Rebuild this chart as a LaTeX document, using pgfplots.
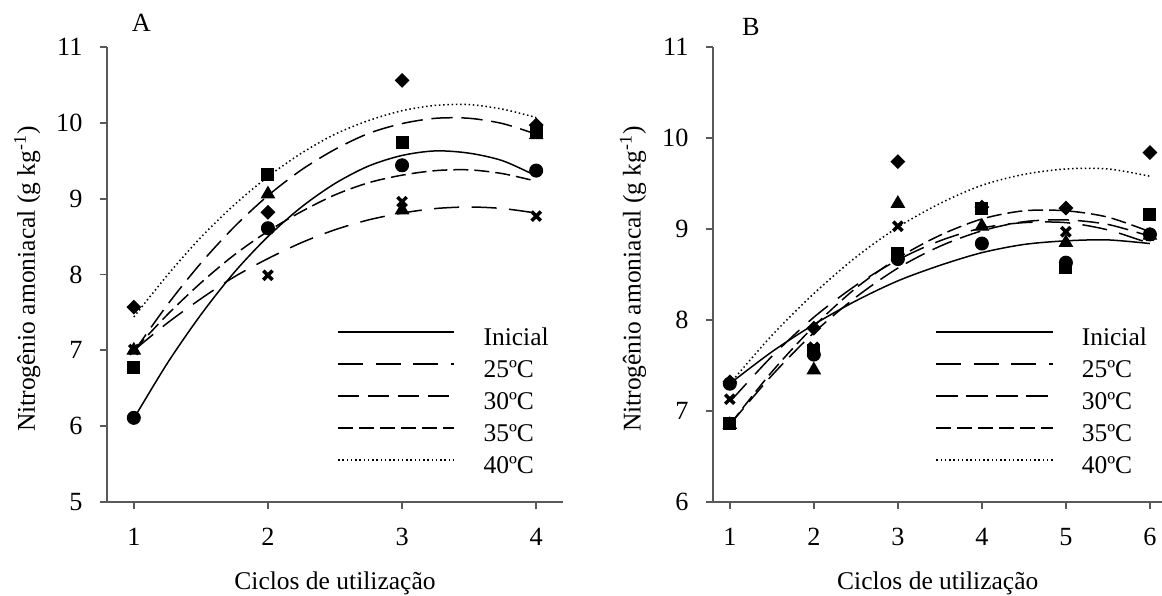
\documentclass[border=0pt]{standalone}
\usepackage{fontspec}
\setmainfont{Liberation Serif}
\usepackage{pgfplots}
\pgfplotsset{compat=1.18}
\begin{document}
\begin{tikzpicture}[x=1pt,y=1pt]
\useasboundingbox (0,0) rectangle (464.8,238);
\pgfplotsset{
  panel/.style={
    scale only axis,
    axis x line=bottom, axis y line=left,
    axis line style={-, black!65, line width=0.7pt},
    tick align=outside,
    major tick length=2.8pt,
    tick style={black!65, line width=0.7pt},
    /pgf/number format/assume math mode=true,
    tick label style={font=\fontsize{10.5}{12}\selectfont, black},
    label style={font=\fontsize{10.2}{12}\selectfont},
    xticklabel style={yshift=-4pt},
    yticklabel style={xshift=-3.5pt},
    clip=false,
    legend cell align=left,
    legend style={draw=none, fill=none, inner sep=0pt, row sep=3.8pt,
      nodes={inner sep=0pt, text height=7pt, text depth=2pt, font=\fontsize{10.2}{12}\selectfont},
      anchor=north west,
      /tikz/every odd column/.style={column sep=11.4pt}},
    legend image code/.code={\draw[##1] (0pt,3pt) -- (46.5pt,3pt);},
    ylabel={Nitrogênio amoniacal (g kg\textsuperscript{-1})},
    xlabel={Ciclos de utilização},
    xlabel style={at={(axis description cs:0.5,-0.193)}, anchor=base},
  },
  cIni/.style={black, line width=0.6pt, smooth},
  c25/.style={black, line width=0.6pt, smooth, dash pattern=on 10pt off 5pt},
  c30/.style={black, line width=0.6pt, smooth, dash pattern=on 8.5pt off 3.5pt},
  c35/.style={black, line width=0.6pt, smooth, dash pattern=on 6pt off 2.4pt},
  c40/.style={black, line width=0.6pt, smooth, dash pattern=on 0.6pt off 1.1pt},
  mCirc/.style={only marks, mark=*, mark size=2.6pt, black, forget plot},
  mSq/.style={only marks, mark=square*, mark size=2.4pt, black, forget plot},
  mTri/.style={only marks, mark=triangle*, mark size=3pt, black, forget plot},
  mX/.style={only marks, mark=x, mark size=2.6pt, black, mark options={line width=1.4pt}, forget plot},
  mDia/.style={only marks, mark=square*, mark size=1.9pt, black, mark options={rotate=45}, forget plot},
}
% ---------------- Panel A ----------------
\begin{axis}[panel, at={(42.8pt,37.2pt)}, anchor=south west,
  width=182.4pt, height=182pt,
  xmin=0.8, xmax=4.2, ymin=5, ymax=11,
  xtick={1,2,3,4}, ytick={5,6,7,8,9,10,11},
  ylabel style={at={(axis description cs:-0.175,0.49)}, anchor=center},
  legend style={at={(axis description cs:0.504,0.3835)}},
]
\addplot[cIni] coordinates {(1,6.10) (1.25,6.83) (1.5,7.47) (1.75,8.03) (2,8.50) (2.25,8.89) (2.5,9.20) (2.75,9.43) (3,9.57) (3.25,9.63) (3.5,9.60) (3.75,9.50) (4,9.30)};
\addlegendentry{Inicial}
\addplot[c25] coordinates {(1,7.00) (1.25,7.36) (1.5,7.68) (1.75,7.97) (2,8.21) (2.25,8.42) (2.5,8.59) (2.75,8.72) (3,8.81) (3.25,8.87) (3.5,8.89) (3.75,8.87) (4,8.81)};
\addlegendentry{25ºC}
\addplot[c30] coordinates {(1,6.98) (1.25,7.60) (1.5,8.15) (1.75,8.63) (2,9.04) (2.25,9.38) (2.5,9.65) (2.75,9.86) (3,9.99) (3.25,10.06) (3.5,10.06) (3.75,9.99) (4,9.85)};
\addlegendentry{30ºC}
\addplot[c35] coordinates {(1,7.00) (1.25,7.47) (1.5,7.89) (1.75,8.26) (2,8.57) (2.25,8.83) (2.5,9.05) (2.75,9.21) (3,9.31) (3.25,9.37) (3.5,9.38) (3.75,9.33) (4,9.23)};
\addlegendentry{35ºC}
\addplot[c40] coordinates {(1,7.44) (1.25,7.99) (1.5,8.49) (1.75,8.92) (2,9.29) (2.25,9.60) (2.5,9.85) (2.75,10.03) (3,10.16) (3.25,10.23) (3.5,10.24) (3.75,10.18) (4,10.07)};
\addlegendentry{40ºC}
\addplot[mTri] coordinates {(1,7.00) (2,9.06) (3,8.85) (4,9.84)};
\addplot[mCirc] coordinates {(1,6.11) (2,8.61) (3,9.44) (4,9.37)};
\addplot[mSq] coordinates {(1,6.78) (2,9.32) (3,9.74) (4,9.87)};
\addplot[mX] coordinates {(1,7.01) (2,7.99) (3,8.96) (4,8.77)};
\addplot[mDia] coordinates {(1,7.57) (2,8.82) (3,10.56) (4,9.97)};
\node[anchor=base west, font=\fontsize{10.5}{12}\selectfont] at (rel axis cs:0.035,1.033) {A};
\end{axis}
% ---------------- Panel B ----------------
\begin{axis}[panel, at={(285.2pt,37.2pt)}, anchor=south west,
  width=179.8pt, height=182pt,
  xmin=0.8, xmax=6.15, ymin=6, ymax=11,
  xtick={1,2,3,4,5,6}, ytick={6,7,8,9,10,11},
  ylabel style={at={(axis description cs:-0.178,0.49)}, anchor=center},
  legend style={at={(axis description cs:0.494,0.3835)}},
]
\addplot[cIni] coordinates {(1,7.30) (1.5,7.65) (2,7.95) (2.5,8.21) (3,8.43) (3.5,8.60) (4,8.74) (4.5,8.83) (5,8.87) (5.5,8.88) (6,8.84)};
\addlegendentry{Inicial}
\addplot[c25] coordinates {(1,7.10) (1.5,7.60) (2,8.03) (2.5,8.38) (3,8.66) (3.5,8.87) (4,9.01) (4.5,9.07) (5,9.07) (5.5,8.99) (6,8.84)};
\addlegendentry{25ºC}
\addplot[c30] coordinates {(1,6.85) (1.5,7.39) (2,7.86) (2.5,8.25) (3,8.57) (3.5,8.81) (4,8.98) (4.5,9.08) (5,9.10) (5.5,9.05) (6,8.92)};
\addlegendentry{30ºC}
\addplot[c35] coordinates {(1,6.85) (1.5,7.43) (2,7.93) (2.5,8.35) (3,8.68) (3.5,8.93) (4,9.11) (4.5,9.20) (5,9.20) (5.5,9.13) (6,8.97)};
\addlegendentry{35ºC}
\addplot[c40] coordinates {(1,7.30) (1.5,7.83) (2,8.29) (2.5,8.69) (3,9.02) (3.5,9.28) (4,9.48) (4.5,9.60) (5,9.66) (5.5,9.66) (6,9.58)};
\addlegendentry{40ºC}
\addplot[mX] coordinates {(1,7.13) (2,7.70) (3,9.03) (4,9.22) (5,8.97) (6,8.93)};
\addplot[mTri] coordinates {(1,6.85) (2,7.45) (3,9.28) (4,9.03) (5,8.85) (6,8.93)};
\addplot[mSq] coordinates {(1,6.86) (2,7.66) (3,8.73) (4,9.22) (5,8.58) (6,9.16)};
\addplot[mCirc] coordinates {(1,7.30) (2,7.62) (3,8.67) (4,8.84) (5,8.63) (6,8.94)};
\addplot[mDia] coordinates {(1,7.32) (2,7.91) (3,9.74) (4,9.24) (5,9.23) (6,9.84)};
\node[anchor=base west, font=\fontsize{10.5}{12}\selectfont] at (rel axis cs:0.045,1.026) {B};
\end{axis}
\end{tikzpicture}
\end{document}
